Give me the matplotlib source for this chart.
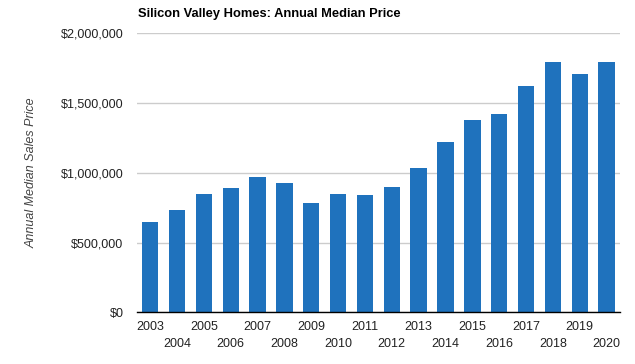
import matplotlib
matplotlib.use("Agg")
import matplotlib.pyplot as plt
from matplotlib.ticker import FuncFormatter
import numpy as np

# ── Data ─────────────────────────────────────────────────────────────────────
years = [str(y) for y in range(2003, 2021)]
median_price = [647000, 733000, 848000, 891000, 970000, 927000, 784000,
                848000, 841000, 898000, 1034000, 1221000, 1378000, 1421000,
                1622000, 1794000, 1708000, 1794000]
y_ticks = [0, 500000, 1000000, 1500000, 2000000]

plt.rcParams["font.family"] = ["Liberation Sans", "DejaVu Sans"]

fig = plt.figure(figsize=(6.35, 3.64), dpi=100)
ax = fig.add_axes([0.2153, 0.142, 0.7611, 0.7665])

x = np.arange(len(years))
ax.bar(x, median_price, width=0.61, color="#1F72BD", zorder=2)

ax.set_xlim(-0.5, len(years) - 0.5)
ax.set_ylim(0, 2000000)
ax.set_yticks(y_ticks)
ax.yaxis.set_major_formatter(FuncFormatter(lambda v, p: f"${v:,.0f}"))
ax.grid(axis="y", color="#cccccc", linewidth=1, zorder=0)

# staggered year labels
labels = [yr if i % 2 == 0 else "\n" + yr for i, yr in enumerate(years)]
ax.set_xticks(x)
ax.set_xticklabels(labels, fontsize=9, color="#222222", linespacing=1.5)
ax.tick_params(axis="x", length=0, pad=6.5)
ax.tick_params(axis="y", length=0, pad=9.5, labelsize=9, labelcolor="#222222")

for s in ["top", "right", "left"]:
    ax.spines[s].set_visible(False)
ax.spines["bottom"].set_color("#000000")
ax.spines["bottom"].set_linewidth(1)
ax.spines["bottom"].set_zorder(3)

fig.text(32 / 635, 1 - 173 / 364, "Annual Median Sales Price", rotation=90,
         ha="center", va="center", fontsize=9, style="italic", color="#444444")
fig.text(138 / 635, 1 - 14 / 364, "Silicon Valley Homes: Annual Median Price",
         ha="left", va="center", fontsize=9.25, fontweight="bold", color="#000000")

fig.savefig("out.png", dpi=100)
